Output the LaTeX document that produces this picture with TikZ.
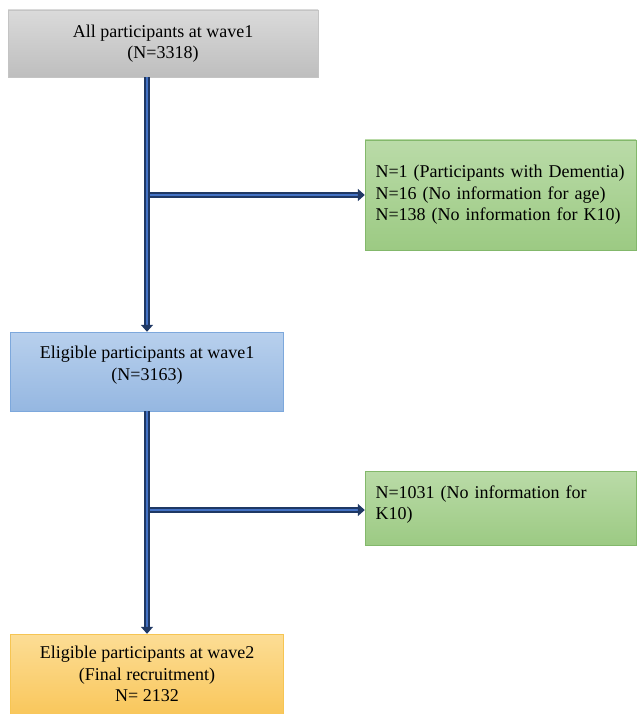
\documentclass[tikz,border=0pt]{standalone}
\usepackage{fontspec}
\setmainfont{Liberation Serif}
\usepackage{xcolor}
\usepackage{tikz}
\usetikzlibrary{shapes.geometric, arrows.meta, positioning}
\definecolor{grayTop}{HTML}{DADADA}
\definecolor{grayBot}{HTML}{BEBEBE}
\definecolor{grayLine}{HTML}{C4C4C4}
\definecolor{blueTop}{HTML}{B8D0ED}
\definecolor{blueBot}{HTML}{95B7E1}
\definecolor{blueLine}{HTML}{7DA8DC}
\definecolor{greenTop}{HTML}{BADBA8}
\definecolor{greenBot}{HTML}{9CCA83}
\definecolor{greenLine}{HTML}{83B86B}
\definecolor{orangeTop}{HTML}{FCDD95}
\definecolor{orangeBot}{HTML}{F9C75C}
\definecolor{orangeLine}{HTML}{F6C553}
\definecolor{arrowDark}{HTML}{1F3864}
\definecolor{arrowLight}{HTML}{4472C4}
\tikzstyle{arrow} = [line width=1.6pt, draw=arrowDark, double=arrowLight, double distance=2pt, -{Triangle[length=7pt,width=12pt]}]
\tikzstyle{stagebox} = [rectangle, align=center, inner sep=0pt, font=\fontsize{18}{21.5}\selectfont]
\tikzstyle{exclbox} = [rectangle, align=left, text width=250pt, inner sep=0pt, minimum width=271pt, draw=greenLine, top color=greenTop, bottom color=greenBot, font=\fontsize{18}{21.5}\selectfont]

\begin{document}
\begin{tikzpicture}
\useasboundingbox (0,0) rectangle (641pt,-714pt);

% Stages
\node (all) [stagebox, minimum width=310pt, minimum height=67pt, draw=grayLine, top color=grayTop, bottom color=grayBot] at (163pt,-43.5pt) {All participants at wave1\\(N=3318)};
\node (elig1) [stagebox, minimum width=273pt, minimum height=79pt, draw=blueLine, top color=blueTop, bottom color=blueBot] at (147pt,-371.5pt) {Eligible participants at wave1\\(N=3163)\\[-5pt]};
\node (elig2) [stagebox, minimum width=273pt, minimum height=80pt, draw=orangeLine, top color=orangeTop, bottom color=orangeBot] at (147pt,-674pt) {Eligible participants at wave2\\(Final recruitment)\\N= 2132};

% Exclusions
\node (drop1) [exclbox, minimum height=110pt] at (500.5pt,-195pt) {N=1 (Participants with Dementia)\\N=16 (No information for age)\\N=138 (No information for K10)};
\node (drop2) [exclbox, minimum height=74pt] at (500.5pt,-508pt) {N=1031 (No information for\\K10)\\[-11pt]\mbox{}};

% Flow
\draw [arrow] (drop1.west -| elig1.north) -- (drop1.west);
\draw [arrow] ([yshift=-2pt]drop2.west -| elig1.north) -- ([yshift=-2pt]drop2.west);
\draw [arrow] (all.south -| elig1.north) -- (elig1.north);
\draw [arrow] (elig1.south) -- (elig2.north);

\end{tikzpicture}
\end{document}
